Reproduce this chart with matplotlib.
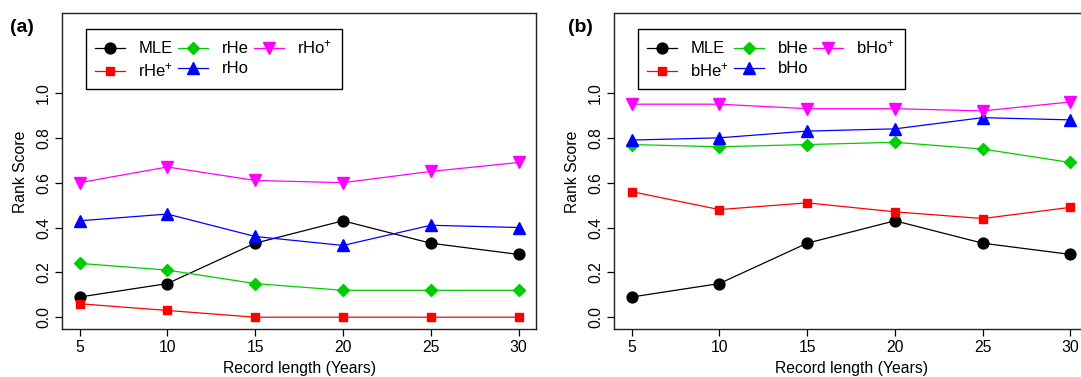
import numpy as np
import matplotlib
matplotlib.use("Agg")
import matplotlib.pyplot as plt

plt.rcParams['font.family'] = ['Liberation Sans', 'DejaVu Sans']
plt.rcParams['mathtext.fontset'] = 'custom'
plt.rcParams['mathtext.rm'] = 'Liberation Sans'
plt.rcParams['mathtext.it'] = 'Liberation Sans:italic'
plt.rcParams['mathtext.bf'] = 'Liberation Sans:bold'

years = [5, 10, 15, 20, 25, 30]

mle = [0.09, 0.15, 0.33, 0.43, 0.33, 0.28]

# panel (a)
rhe_plus = [0.06, 0.03, 0.00, 0.00, 0.00, 0.00]
rhe = [0.24, 0.21, 0.15, 0.12, 0.12, 0.12]
rho = [0.43, 0.46, 0.36, 0.32, 0.41, 0.40]
rho_plus = [0.60, 0.67, 0.61, 0.60, 0.65, 0.69]

# panel (b)
bhe_plus = [0.56, 0.48, 0.51, 0.47, 0.44, 0.49]
bhe = [0.77, 0.76, 0.77, 0.78, 0.75, 0.69]
bho = [0.79, 0.80, 0.83, 0.84, 0.89, 0.88]
bho_plus = [0.95, 0.95, 0.93, 0.93, 0.92, 0.96]

labels_a = ['MLE', r'rHe$^{+}$', 'rHe', 'rHo', r'rHo$^{+}$']
labels_b = ['MLE', r'bHe$^{+}$', 'bHe', 'bHo', r'bHo$^{+}$']

colors = ['black', '#FF0000', '#00CD00', '#0000FF', '#FF00FF']
markers = ['o', 's', 'D', '^', 'v']
msizes = [7.8, 6.3, 6.3, 8, 8.3]

fs = 11.3


def panel(ax, series, labels):
    for vals, lab, c, m, ms in zip(series, labels, colors, markers, msizes):
        ax.plot(years, vals, color=c, marker=m, markersize=ms, lw=0.9, label=lab)
    ax.set_xlim(4, 31)
    ax.set_ylim(-0.054, 1.355)
    ax.set_xticks(years)
    ax.set_yticks(np.arange(0, 1.01, 0.2))
    ax.set_yticklabels(['{:.1f}'.format(v) for v in np.arange(0, 1.01, 0.2)],
                       rotation=90, va='center')
    ax.tick_params(direction='out', length=5, width=0.9, labelsize=fs, pad=3)
    for s in ax.spines.values():
        s.set_linewidth(1.0)
        s.set_color('#222222')
    ax.set_xlabel('Record length (Years)', fontsize=fs, labelpad=4)
    ax.set_ylabel('Rank Score', fontsize=fs, labelpad=6)
    leg = ax.legend(ncol=3, loc='upper left', bbox_to_anchor=(0.05, 0.95),
                    borderaxespad=0, fontsize=12, handlelength=1.8,
                    handletextpad=0.8, columnspacing=0.3, labelspacing=0.3,
                    borderpad=0.55, fancybox=False, framealpha=1)
    leg.get_frame().set_edgecolor('black')
    leg.get_frame().set_linewidth(1.0)


fig = plt.figure(figsize=(10.81, 3.77), dpi=100)
ax1 = fig.add_axes([0.0574, 0.1265, 0.4385, 0.838])
ax2 = fig.add_axes([0.568, 0.1265, 0.4385, 0.838])

panel(ax1, [mle, rhe_plus, rhe, rho, rho_plus], labels_a)
panel(ax2, [mle, bhe_plus, bhe, bho, bho_plus], labels_b)

fig.text(22 / 1081, 1 - 27 / 377, '(a)', fontsize=14, fontweight='bold',
         ha='center', va='center')
fig.text(580 / 1081, 1 - 27 / 377, '(b)', fontsize=14, fontweight='bold',
         ha='center', va='center')

fig.savefig('out.png', dpi=100)
